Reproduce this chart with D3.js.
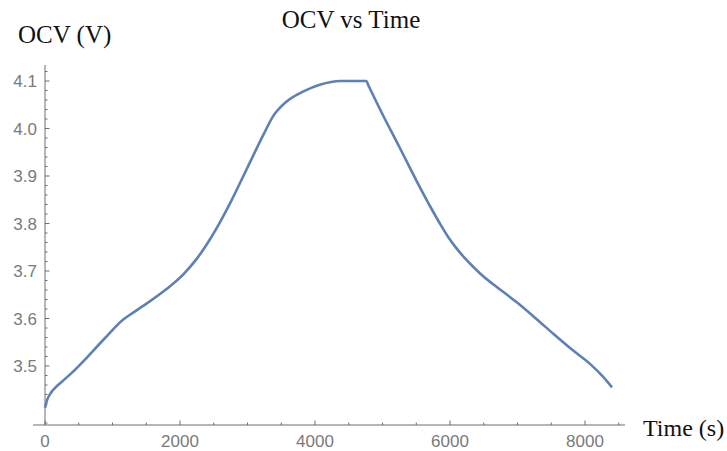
<!DOCTYPE html>
<html>
<head>
<meta charset="utf-8">
<script src="https://cdn.jsdelivr.net/npm/d3@7"></script>
<style>
  body { margin: 0; background: #fff; }
  svg { display: block; }
</style>
</head>
<body>
<svg id="chart" width="727" height="451"></svg>
<script>
// chart data
var timeS = [0, 30, 80, 150, 250, 400, 520, 890, 1160, 1260, 1460, 1800, 2050, 2250, 2400, 2550,
    2750, 3000, 3240, 3380, 3580, 3830, 4070, 4380, 4760, 4790, 5000, 5250, 5500, 5730,
    5850, 5980, 6100, 6220, 6350, 6500, 6640, 6990, 7280, 7530, 7830, 8070, 8270, 8400];
var ocvV = [3.412, 3.428, 3.442, 3.454, 3.467, 3.486, 3.503, 3.559, 3.598, 3.608, 3.627, 3.662, 3.693, 3.726, 3.757, 3.792,
    3.845, 3.918, 3.988, 4.026, 4.057, 4.078, 4.092, 4.100, 4.100, 4.091, 4.030, 3.961, 3.891, 3.830,
    3.800, 3.770, 3.747, 3.727, 3.708, 3.688, 3.672, 3.634, 3.599, 3.568, 3.532, 3.505, 3.477, 3.455];
var xTicks = [0, 2000, 4000, 6000, 8000];
var yTicks = [3.5, 3.6, 3.7, 3.8, 3.9, 4.0, 4.1];

var svg = d3.select("#chart");
var lineColour = "#5e81b5", axisColour = "#6e6e6e", labelColour = "#7a7a7a";

// scales
var x = d3.scaleLinear().domain([0, 8000]).range([45, 585]);
var y = d3.scaleLinear().domain([3.5, 4.1]).range([366, 81]);

// axis extents (Mathematica style: axes cross slightly outside the data)
var xLo = x.invert(33), xHi = x.invert(625);
var yLo = y.invert(425), yHi = y.invert(65);

// x axis
var xAxis = svg.append("g").attr("transform", "translate(0," + y(yLo) + ")");
xAxis.append("line")
    .attr("x1", x(xLo)).attr("x2", x(xHi))
    .attr("stroke", axisColour).attr("stroke-width", 1);
var xMinor = d3.range(500, 8600, 500).filter(function (d) { return d % 2000 !== 0; });
xAxis.selectAll(".minor").data(xMinor).enter().append("line")
    .attr("x1", function (d) { return x(d); }).attr("x2", function (d) { return x(d); })
    .attr("y1", 0).attr("y2", -2.5)
    .attr("stroke", axisColour);
xAxis.selectAll(".major").data(xTicks).enter().append("line")
    .attr("x1", function (d) { return x(d); }).attr("x2", function (d) { return x(d); })
    .attr("y1", 0).attr("y2", -4.5)
    .attr("stroke", axisColour);
xAxis.selectAll("text").data(xTicks).enter().append("text")
    .attr("x", function (d) { return x(d); })
    .attr("y", 22)
    .attr("text-anchor", "middle")
    .attr("font-family", "Liberation Sans, Arial, sans-serif")
    .attr("font-size", 17)
    .attr("fill", labelColour)
    .text(function (d) { return d; });

// y axis
var yAxis = svg.append("g").attr("transform", "translate(" + x(0) + ",0)");
yAxis.append("line")
    .attr("y1", y(yLo)).attr("y2", y(yHi))
    .attr("stroke", axisColour).attr("stroke-width", 1);
var yMinor = d3.range(169, 207).map(function (i) { return +(i * 0.02).toFixed(2); })
    .filter(function (d) { return Math.round(d * 100) % 10 !== 0 && d > yLo && d < yHi; });
yAxis.selectAll(".minor").data(yMinor).enter().append("line")
    .attr("y1", function (d) { return y(d); }).attr("y2", function (d) { return y(d); })
    .attr("x1", 0).attr("x2", 2.5)
    .attr("stroke", axisColour);
yAxis.selectAll(".major").data(yTicks).enter().append("line")
    .attr("y1", function (d) { return y(d); }).attr("y2", function (d) { return y(d); })
    .attr("x1", 0).attr("x2", 4.5)
    .attr("stroke", axisColour);
yAxis.selectAll("text").data(yTicks).enter().append("text")
    .attr("x", -8)
    .attr("y", function (d) { return y(d) + 6; })
    .attr("text-anchor", "end")
    .attr("font-family", "Liberation Sans, Arial, sans-serif")
    .attr("font-size", 17)
    .attr("fill", labelColour)
    .text(function (d) { return d.toFixed(1); });

// the curve
var line = d3.line()
    .x(function (d, i) { return x(timeS[i]); })
    .y(function (d) { return y(d); })
    .curve(d3.curveMonotoneX);

svg.append("path")
    .datum(ocvV)
    .attr("d", line)
    .attr("fill", "none")
    .attr("stroke", lineColour)
    .attr("stroke-width", 2.6)
    .attr("stroke-linejoin", "round");

// titles
svg.append("text")
    .attr("x", 351).attr("y", 28)
    .attr("text-anchor", "middle")
    .attr("font-family", "Liberation Serif, Times New Roman, serif")
    .attr("font-size", 25)
    .attr("fill", "#111")
    .text("OCV vs Time");

svg.append("text")
    .attr("x", 18).attr("y", 43)
    .attr("font-family", "Liberation Serif, Times New Roman, serif")
    .attr("font-size", 25)
    .attr("fill", "#111")
    .text("OCV (V)");

svg.append("text")
    .attr("x", 643).attr("y", 436)
    .attr("font-family", "Liberation Serif, Times New Roman, serif")
    .attr("font-size", 24)
    .attr("fill", "#111")
    .text("Time (s)");
</script>
</body>
</html>
